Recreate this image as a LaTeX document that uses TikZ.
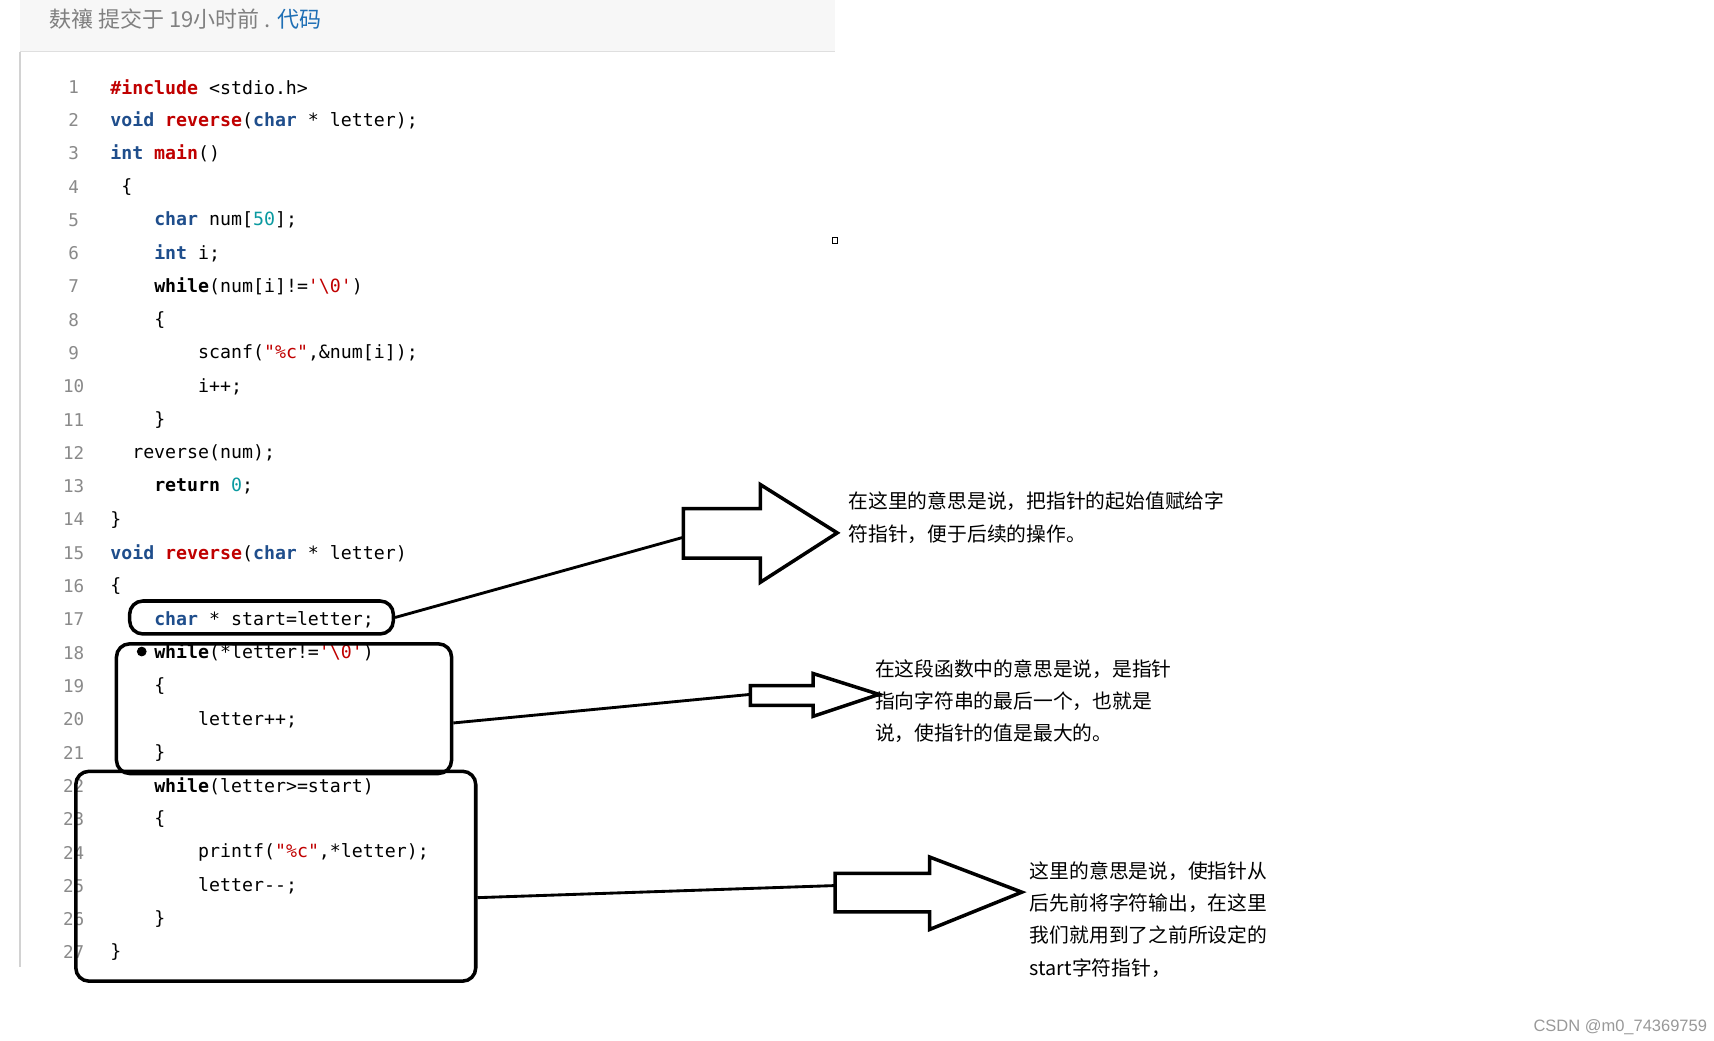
\documentclass[tikz,border=0pt]{standalone}
\usepackage{fontspec}
\setmainfont{Liberation Sans}
\newfontfamily\codef{DejaVu Sans Mono}
\newfontfamily\cjk{Noto Sans CJK SC}
\definecolor{kwc}{HTML}{1F4E8C}
\definecolor{fnc}{HTML}{C00000}
\definecolor{nmc}{HTML}{0A9AA0}
\definecolor{lnc}{HTML}{8A8A8A}
\newcommand{\kw}[1]{\textcolor{kwc}{\bfseries #1}}
\newcommand{\fn}[1]{\textcolor{fnc}{\bfseries #1}}
\newcommand{\bk}[1]{{\bfseries #1}}
\newcommand{\cstr}[1]{\textcolor{fnc}{#1}}
\newcommand{\nm}[1]{\textcolor{nmc}{#1}}
\begin{document}
\begin{tikzpicture}[x=0.5pt,y=-0.5pt,
  code/.style={anchor=west,inner sep=0,font=\codef\fontsize{8.3pt}{10pt}\selectfont},
  lnum/.style={anchor=center,inner sep=0,text=lnc,font=\codef\fontsize{8pt}{10pt}\selectfont},
  box/.style={draw=black,line width=1.6pt,rounded corners=6pt},
  lead/.style={draw=black,line width=1.3pt},
  blk/.style={draw=black,line width=1.6pt,fill=white,line join=miter},
  note/.style={anchor=west,inner sep=0,font=\cjk\fontsize{9pt}{11pt}\selectfont}]
\useasboundingbox (0,0) rectangle (1560,947);
\fill[white] (0,0) rectangle (1560,947);
\fill[gray!6] (18,0) rectangle (760,47);
\draw[gray!25] (18,47) -- (760,47);
\draw[gray!35,line width=0.8pt] (18,47) -- (18,880);
\node[anchor=west,inner sep=0,font=\cjk\fontsize{10pt}{12pt}\selectfont,text=gray] (hdr) at (45,17) {麸禳 提交于 19小时前 . \textcolor[HTML]{1F6FB5}{代码}};
\newcommand{\cl}[3]{\node[lnum] (n#1) at (67,{79+30.3*(#1-1)}) {#1};
  \node[code] (c#1) at (#2,{79+30.3*(#1-1)}) {#3};}
\cl{1}{100}{\fn{\#include} <stdio.h>}
\cl{2}{100}{\kw{void} \fn{reverse}(\kw{char} * letter);}
\cl{3}{100}{\kw{int} \fn{main}()}
\cl{4}{110}{\{}
\cl{5}{140}{\kw{char} num[\nm{50}];}
\cl{6}{140}{\kw{int} i;}
\cl{7}{140}{\bk{while}(num[i]!=\cstr{'\textbackslash 0'})}
\cl{8}{140}{\{}
\cl{9}{180}{scanf(\cstr{"\%c"},\&num[i]);}
\cl{10}{180}{i++;}
\cl{11}{140}{\}}
\cl{12}{120}{reverse(num);}
\cl{13}{140}{\bk{return} \nm{0};}
\cl{14}{100}{\}}
\cl{15}{100}{\kw{void} \fn{reverse}(\kw{char} * letter)}
\cl{16}{100}{\{}
\cl{17}{140}{\kw{char} * start=letter;}
\cl{18}{140}{\bk{while}(*letter!=\cstr{'\textbackslash 0'})}
\cl{19}{140}{\{}
\cl{20}{180}{letter++;}
\cl{21}{140}{\}}
\cl{22}{140}{\bk{while}(letter>=start)}
\cl{23}{140}{\{}
\cl{24}{180}{printf(\cstr{"\%c"},*letter);}
\cl{25}{180}{letter--;}
\cl{26}{140}{\}}
\cl{27}{100}{\}}
\node[draw,circle,fill=black,inner sep=0,minimum size=4pt] (dot) at (129,593) {};
\node[draw,inner sep=0,minimum size=2.5pt,line width=0.4pt] (sq) at (760,219) {};
% boxes
\node[box,minimum width=120pt,minimum height=15pt,inner sep=0] (b1) at (238,562) {};
\node[box,minimum width=152.5pt,minimum height=59pt,inner sep=0] (b2) at (258.5,645) {};
\node[box,minimum width=182pt,minimum height=95.5pt,inner sep=0] (b3) at (251,797.5) {};
% block arrows
\draw[blk] (622,463) -- (692,463) -- (692,441) -- (762,485) -- (692,530) -- (692,508) -- (622,508) -- cycle;
\draw[blk] (683,624) -- (740,624) -- (740,613) -- (800,632) -- (740,652) -- (740,642) -- (683,642) -- cycle;
\draw[blk] (760,795) -- (846,795) -- (846,780) -- (930,812) -- (846,846) -- (846,830) -- (760,830) -- cycle;
\coordinate (a1) at (622,489);
\coordinate (a2) at (683,632);
\coordinate (a3) at (760,806);
\path (b2.east) ++(0,-6.5pt) coordinate (e2);
\path (b3.east) ++(0,-9.75pt) coordinate (e3);
\draw[lead] (b1.east) -- (a1);
\draw[lead] (e2) -- (a2);
\draw[lead] (e3) -- (a3);
% notes
\begin{scope}
\clip (765,430) rectangle (1121,500);
\node[note] (t1a) at (772,456) {在这里的意思是说，把指针的起始值赋给字};
\end{scope}
\node[note] (t1b) at (772,486) {符指针，便于后续的操作。};
\node[note] (t2a) at (796,609) {在这段函数中的意思是说，是指针};
\node[note] (t2b) at (796,638) {指向字符串的最后一个，也就是};
\node[note] (t2c) at (796,667) {说，使指针的值是最大的。};
\node[note] (t3a) at (937,793) {这里的意思是说，使指针从};
\node[note] (t3b) at (937,822) {后先前将字符输出，在这里};
\node[note] (t3c) at (937,851) {我们就用到了之前所设定的};
\node[note] (t3d) at (937,881) {start字符指针，};
\node[anchor=east,inner sep=0,text=gray!80,font=\fontsize{7.5pt}{9pt}\selectfont] (wm) at (1554,935) {CSDN @m0\_74369759};
\end{tikzpicture}
\end{document}
